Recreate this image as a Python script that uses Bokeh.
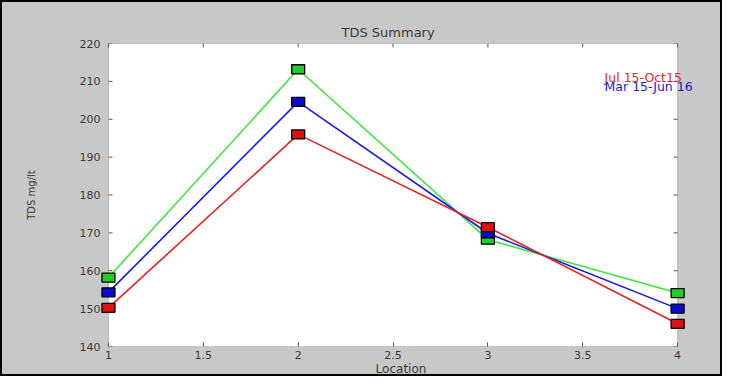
import math
from bokeh.plotting import figure
from bokeh.models import FixedTicker, Label, ColumnDataSource, Range1d, BoxAnnotation
from bokeh.embed import file_html
from bokeh.resources import INLINE

locations = [1, 2, 3, 4]
series_green = [158.2, 213.2, 168.2, 154.1]
series_blue = [154.3, 204.6, 169.9, 150.0]
series_red = [150.2, 196.0, 171.5, 146.0]
legend_names = ["Jul 15-Oct15", "Mar 15-Jun 16"]
legend_pos = [(3.615, 210.9), (3.615, 208.7)]
x_ticks = [1, 1.5, 2, 2.5, 3, 3.5, 4]
x_tick_labels = ["1", "1.5", "2", "2.5", "3", "3.5", "4"]
y_ticks = [140, 150, 160, 170, 180, 190, 200, 210, 220]

FONT = "DejaVu Sans"
GRAY = "#c8c8c8"
TXT = "#3a3a3a"
AX = "#555555"

# the frame is a little wider than the axes box so edge markers and the
# overflowing legend text are not cut off (MATLAB does not clip them)
PX_PER_UNIT = 572 / 3.0
PAD_L, PAD_R = 8, 24
x0, x1 = x_ticks[0], x_ticks[-1]
y0, y1 = y_ticks[0], y_ticks[-1]

p = figure(width=722, height=376, output_backend="svg", toolbar_location=None,
           x_range=Range1d(x0 - PAD_L / PX_PER_UNIT, x1 + PAD_R / PX_PER_UNIT),
           y_range=Range1d(y0, y1),
           min_border_left=98, min_border_right=23, min_border_top=41, min_border_bottom=20,
           background_fill_color=GRAY, background_fill_alpha=1, border_fill_color=GRAY,
           x_axis_label="Location", y_axis_label="TDS mg/lt")
p.styles = {"border": "2px solid #000", "box-sizing": "border-box",
            "background-color": GRAY}
p.title.text = "TDS Summary"
p.title.align = "left"
p.title.offset = 241
p.title.text_font = FONT
p.title.text_font_size = "13px"
p.title.text_font_style = "normal"
p.title.text_color = TXT
p.title.standoff = 8
p.grid.visible = False
p.outline_line_color = None

# axes box (white plotting area)
p.add_layout(BoxAnnotation(left=x0, right=x1, bottom=y0, top=y1, fill_color="white",
                           fill_alpha=1, line_color=AX, line_width=1, level="underlay"))

for ax in (p.xaxis[0], p.yaxis[0]):
    ax.major_tick_in = 4
    ax.major_tick_out = 0
    ax.minor_tick_line_color = None
    ax.axis_line_color = None
    ax.major_tick_line_color = AX
    ax.major_label_text_font = FONT
    ax.major_label_text_font_size = "11px"
    ax.major_label_text_color = TXT
    ax.axis_label_text_font = FONT
    ax.axis_label_text_font_style = "normal"
    ax.axis_label_text_color = TXT

p.xaxis[0].ticker = FixedTicker(ticks=x_ticks)
p.xaxis[0].major_label_overrides = {t: l for t, l in zip(x_ticks, x_tick_labels)}
p.xaxis[0].major_label_standoff = 4
p.xaxis[0].axis_label_standoff = 0
p.xaxis[0].axis_label_text_font_size = "12px"
p.yaxis[0].ticker = FixedTicker(ticks=y_ticks)
p.yaxis[0].major_tick_line_color = None
p.yaxis[0].major_label_standoff = 0
p.yaxis[0].axis_label_standoff = 40
p.yaxis[0].axis_label_text_font_size = "10px"

# inward tick marks on the left, top and right edges of the box
p.ray(x=[x0] * len(y_ticks), y=y_ticks, length=4, length_units="screen", angle=0,
      line_color=AX, line_width=1)
p.ray(x=[x1] * len(y_ticks), y=y_ticks, length=4, length_units="screen", angle=math.pi,
      line_color=AX, line_width=1)
p.ray(x=x_ticks, y=[y1] * len(x_ticks), length=4, length_units="screen", angle=-math.pi / 2,
      line_color=AX, line_width=1)

specs = [(series_green, "#3ee83e", "#22cc22"),
         (series_blue, "#1a1aee", "#0a0acc"),
         (series_red, "#ee2020", "#dd1111")]
for vals, lc, fc in specs:
    src = ColumnDataSource(dict(x=locations, y=vals))
    p.line("x", "y", source=src, line_color=lc, line_width=1.6)
for vals, lc, fc in specs:
    src = ColumnDataSource(dict(x=locations, y=vals))
    p.rect("x", "y", width=13, height=9, width_units="screen", height_units="screen",
           source=src, fill_color=fc, line_color="black", line_width=1.3)

for name, col, (lx, ly) in zip(legend_names, ["#e82828", "#1a1acc"], legend_pos):
    p.add_layout(Label(x=lx, y=ly, text=name, text_color=col, text_font=FONT,
                       text_font_size="12.5px", text_font_style="normal",
                       text_baseline="middle", text_align="left"))

open("out.html", "w").write(file_html(p, INLINE))
